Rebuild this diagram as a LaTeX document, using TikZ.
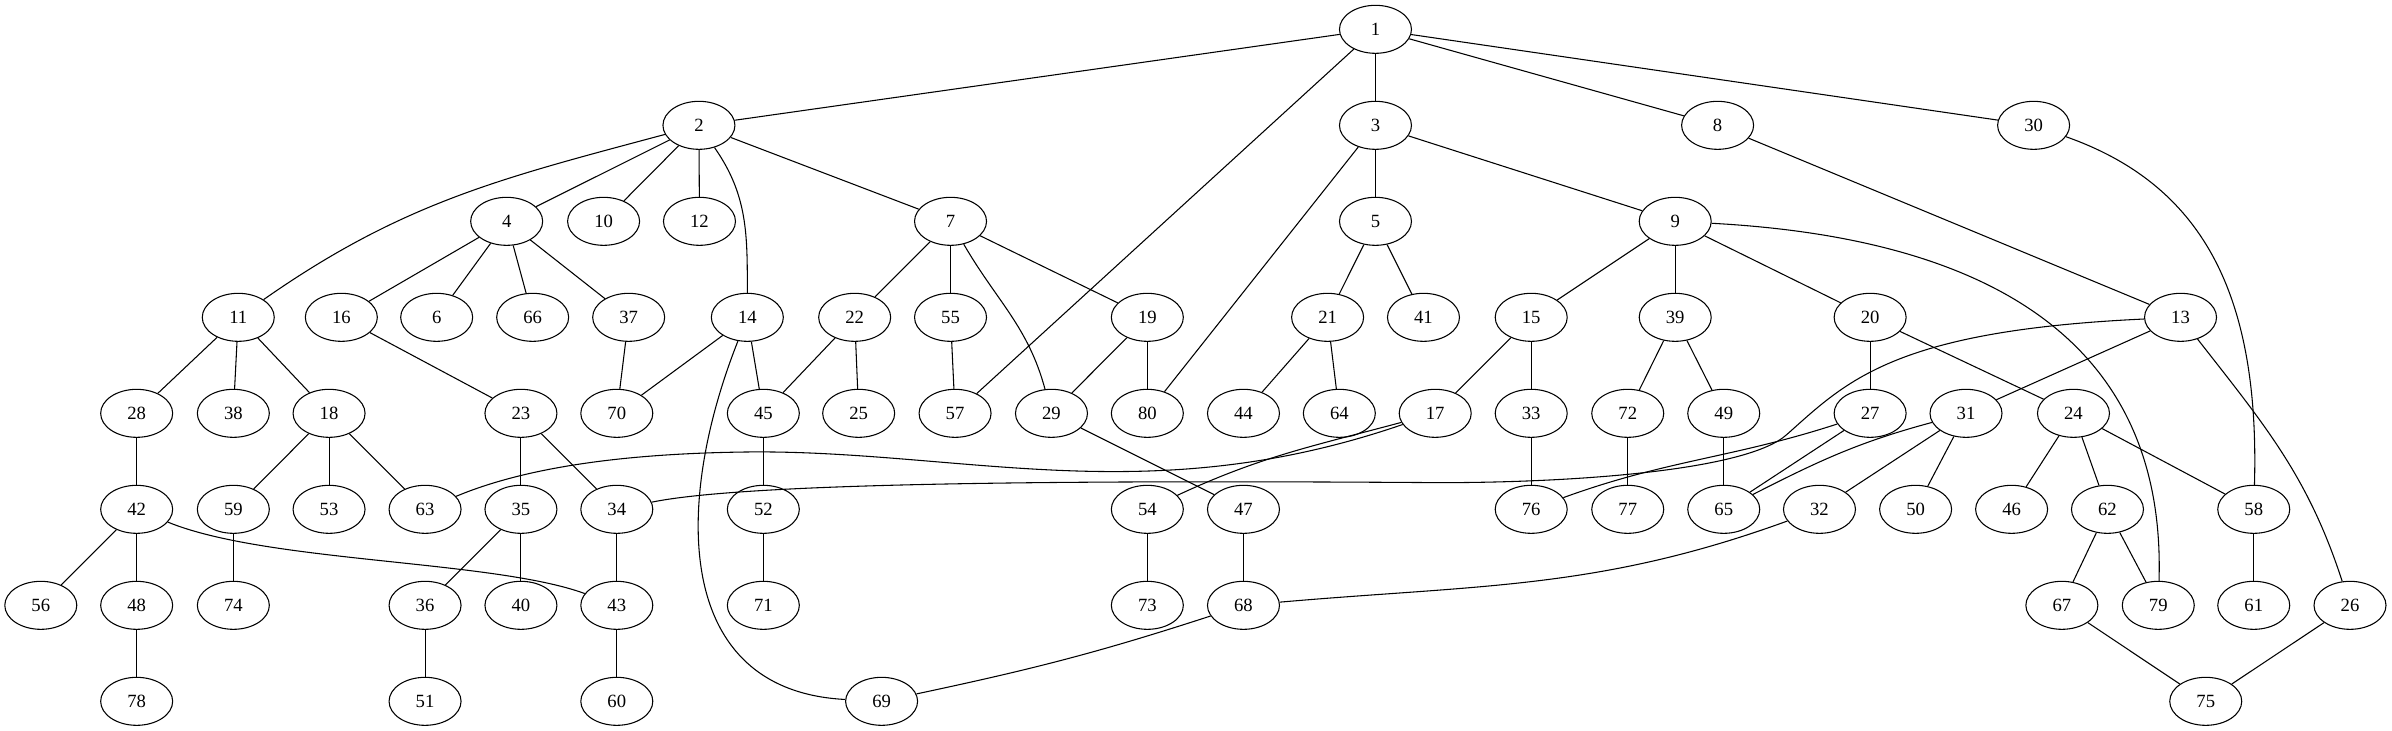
\documentclass[tikz,border=0pt]{standalone}
\usepackage{fontspec}
\setmainfont{Liberation Serif}
\usetikzlibrary{shapes.geometric}

\begin{document}
\begin{tikzpicture}[x=1pt, y=1pt,
	vtx/.style={ellipse, draw, line width=0.8pt, minimum width=54pt, minimum height=36pt,
		inner sep=0pt, font=\fontsize{14}{16}\selectfont},
	edge/.style={line width=0.8pt}]
	\useasboundingbox (0,0) rectangle (1794,548);

	% Rank 0 and 1
	\node[vtx] (n1) at (1031.6,526) {1};
	\foreach \n/\x in {2/524.2, 3/1031.6, 8/1288.2, 30/1525.2}
		\node[vtx] (n\n) at (\x,454) {\n};

	% Rank 2
	\foreach \n/\x in {4/380, 10/452.7, 12/524.6, 7/712.9, 5/1031.6, 9/1256.4}
		\node[vtx] (n\n) at (\x,382) {\n};

	% Rank 3
	\foreach \n/\x in {11/178.7, 16/256, 6/327.5, 66/399.5, 37/471.5, 14/560.5, 22/641,
		55/712.9, 19/860.5, 21/995.7, 41/1067.6, 15/1148.4, 39/1256.4, 20/1402.6, 13/1635.4}
		\node[vtx] (n\n) at (\x,310) {\n};

	% Rank 4
	\foreach \n/\x in {28/102.5, 38/175, 18/246.8, 23/390.7, 70/462.6, 45/572.5, 25/644,
		57/716.3, 29/788.6, 80/860.5, 44/932.6, 64/1004.5, 17/1076.4, 33/1148.4, 72/1220.8,
		49/1292.8, 27/1402.6, 31/1474.5, 24/1555.1}
		\node[vtx] (n\n) at (\x,238) {\n};

	% Rank 5
	\foreach \n/\x in {42/102.5, 59/175, 53/246.8, 63/318.8, 35/390.7, 34/462.6, 52/572.5,
		54/860.5, 47/932.6, 76/1148.4, 77/1220.8, 65/1292.8, 32/1364.6, 50/1436.7, 46/1508.7,
		62/1580.6, 58/1690.3}
		\node[vtx] (n\n) at (\x,166) {\n};

	% Rank 6
	\foreach \n/\x in {56/30.6, 48/102.5, 74/175, 36/318.8, 40/390.7, 43/462.6, 71/572.5,
		73/860.5, 68/932.6, 67/1546.4, 79/1618.7, 61/1690.3, 26/1762.5}
		\node[vtx] (n\n) at (\x,94) {\n};

	% Rank 7
	\foreach \n/\x in {78/102.5, 51/318.8, 60/462.6, 69/661.2, 75/1654.3}
		\node[vtx] (n\n) at (\x,22) {\n};

	% Straight edges
	\foreach \a/\b in {1/2, 1/3, 1/8, 1/30, 1/57, 2/4, 2/10, 2/12, 2/7, 3/5, 3/9, 3/80,
		8/13, 4/16, 4/6, 4/66, 4/37, 7/22, 7/55, 7/19, 5/21, 5/41, 9/15, 9/39, 9/20,
		11/28, 11/38, 11/18, 16/23, 37/70, 14/70, 14/45, 22/45, 22/25, 55/57, 19/29, 19/80,
		21/44, 21/64, 15/17, 15/33, 39/72, 39/49, 20/27, 20/24, 13/31,
		24/46, 24/62, 24/58, 29/47, 31/32, 31/50, 49/65, 27/65, 33/76, 72/77,
		23/35, 23/34, 18/59, 18/53, 18/63, 28/42, 42/56, 42/48, 59/74, 35/36, 35/40,
		34/43, 45/52, 52/71, 54/73, 47/68, 62/67, 62/79, 58/61, 48/78, 36/51, 43/60,
		67/75, 26/75}
		\draw[edge] (n\a) -- (n\b);

	% Curved edges
	\draw[edge] (n2) to[out=195, in=35] (n11);
	\draw[edge] (n2) to[out=-55, in=90] (n14);
	\draw[edge] (n7) to[out=-60, in=105] (n29);
	\draw[edge] (n14) .. controls (505,170) and (505,30) .. (n69);
	\draw[edge] (n9) .. controls (1480,370) and (1625,300) .. (n79);
	\draw[edge] (n30) .. controls (1650,410) and (1695,330) .. (n58);
	\draw[edge] (n13) to[out=-52, in=108] (n26);
	\draw[edge] (n13) .. controls (1420,300) and (1385,262) .. (1340,222)
		.. controls (1310,195) and (1180,186) .. (1080,186)
		.. controls (800,188) and (560,186) .. (n34);
	\draw[edge] (n27) to[out=198, in=20] (n76);
	\draw[edge] (n31) to[out=195, in=27] (n65);
	\draw[edge] (n17) .. controls (960,198) and (880,192) .. (800,195)
		.. controls (720,198) and (640,210) .. (560,209)
		.. controls (480,208) and (400,200) .. (n63);
	\draw[edge] (n17) to[out=195, in=25] (n54);
	\draw[edge] (n42) .. controls (200,126) and (370,128) .. (n43);
	\draw[edge] (n32) to[out=200, in=5] (n68);
	\draw[edge] (n68) to[out=198, in=12] (n69);
\end{tikzpicture}
\end{document}
